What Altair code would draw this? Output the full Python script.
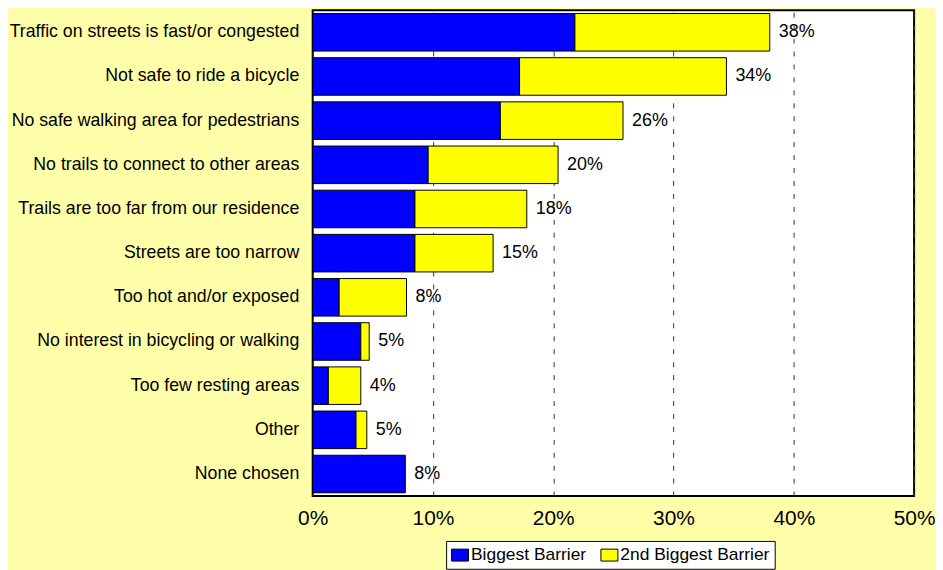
import altair as alt
import pandas as pd

categories = [
    "Traffic on streets is fast/or congested",
    "Not safe to ride a bicycle",
    "No safe walking area for pedestrians",
    "No trails to connect to other areas",
    "Trails are too far from our residence",
    "Streets are too narrow",
    "Too hot and/or exposed",
    "No interest in bicycling or walking",
    "Too few resting areas",
    "Other",
    "None chosen",
]
biggest = [21.8, 17.2, 15.6, 9.6, 8.5, 8.5, 2.2, 4.0, 1.3, 3.6, 7.7]
second = [16.2, 17.2, 10.2, 10.8, 9.3, 6.5, 5.6, 0.7, 2.7, 0.9, 0.0]
labels = ["38%", "34%", "26%", "20%", "18%", "15%", "8%", "5%", "4%", "5%", "8%"]
series_names = ["Biggest Barrier", "2nd Biggest Barrier"]
series_colors = ["#0000FF", "#FFFF00"]
x_ticks = [0, 10, 20, 30, 40, 50]

FONT = "Liberation Sans"

rows = []
for c, b, s in zip(categories, biggest, second):
    rows.append({"category": c, "series": series_names[0], "value": b, "ord": 0})
    if s > 0:
        rows.append({"category": c, "series": series_names[1], "value": s, "ord": 1})
bar_df = pd.DataFrame(rows)

label_df = pd.DataFrame({
    "category": categories,
    "total": [b + s for b, s in zip(biggest, second)],
    "label": labels,
})

y_enc = alt.Y(
    "category:N",
    sort=categories,
    title=None,
    scale=alt.Scale(paddingInner=0.15, paddingOuter=0.075),
    axis=alt.Axis(ticks=False, domain=False, labelFontSize=17.8, labelPadding=14,
                  labelColor="black", labelFont=FONT, labelLimit=400),
)

nb = "\u00a0" * 7
bars = alt.Chart(bar_df).mark_bar(stroke="black", strokeWidth=1).encode(
    y=y_enc,
    x=alt.X(
        "value:Q",
        stack="zero",
        title=None,
        scale=alt.Scale(domain=[0, 50], nice=False),
        axis=alt.Axis(values=x_ticks, labelExpr="datum.value + '%'", ticks=False,
                      domain=False, grid=True, gridDash=[5, 8], gridColor="#333333",
                      gridWidth=1, labelFontSize=21, labelPadding=12,
                      labelFlush=False, labelOverlap=False,
                      labelColor="black", labelFont=FONT),
    ),
    color=alt.Color(
        "series:N",
        scale=alt.Scale(domain=series_names, range=series_colors),
        legend=alt.Legend(
            title=None, orient="none", legendX=134, legendY=533,
            direction="horizontal",
            symbolType="M-1,-0.706H1V0.706H-1Z", symbolSize=289,
            symbolStrokeColor="black", symbolStrokeWidth=1, symbolOpacity=1,
            labelFontSize=17.5, labelFont=FONT, labelColor="black",
            labelOffset=2, columnPadding=12, padding=5,
            fillColor="white", strokeColor="black", labelLimit=400,
            labelExpr="datum.label == '2nd Biggest Barrier' ? datum.label + '" + nb + "' : datum.label",
        ),
    ),
    order=alt.Order("ord:Q"),
)

texts = alt.Chart(label_df).mark_text(
    align="left", baseline="middle", dx=9, fontSize=18, font=FONT, color="black"
).encode(
    y=alt.Y("category:N", sort=categories),
    x=alt.X("total:Q"),
    text="label:N",
)

chart = alt.layer(bars, texts).properties(
    width=604,
    height=488,
    autosize=alt.AutoSizeParams(type="none"),
    padding={"left": 306, "top": 1, "right": 21, "bottom": 73},
).configure(background="#FFFFAA").configure_view(
    fill="white", stroke="black", strokeWidth=2
)

chart.save("out.html", embed_options={"renderer": "svg", "actions": False})
